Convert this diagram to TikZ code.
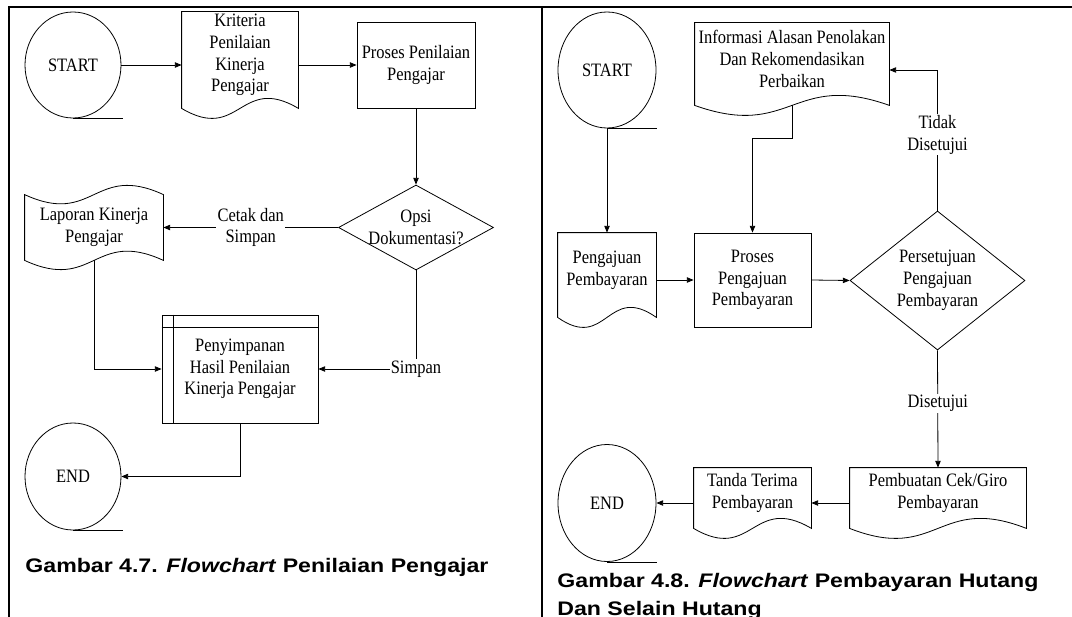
\documentclass[tikz,border=0pt]{standalone}
\usepackage{fontspec}
\setmainfont{Liberation Serif}[FakeStretch=0.87]
\newfontfamily\capfont{Liberation Sans}[FakeStretch=1.18]
\usetikzlibrary{shapes.geometric,arrows.meta}

\tikzset{
  term/.style={ellipse,draw,inner sep=0pt},
  proc/.style={rectangle,draw,align=center,inner sep=1pt},
  doc/.style={rectangle,align=center,inner sep=0pt},
  dec/.style={diamond,draw,inner sep=0pt},
  lbl/.style={fill=white,align=center,inner sep=1pt},
  capt/.style={anchor=base west,inner sep=0pt,font=\capfont\fontsize{14.7}{21}\selectfont\bfseries}
}
% outline of a document symbol round a node
\newcommand\docline[1]{%
  \draw (#1.north west) -- ([yshift=-7.5pt]#1.south west)
    .. controls ([yshift=-33.5pt]#1.south) and ([yshift=18.5pt]#1.south) ..
    ([yshift=-7.5pt]#1.south east) -- (#1.north east) -- cycle;}
% outline of a punched tape symbol
\newcommand\tapeline[1]{%
  \draw (#1.north west) .. controls ([yshift=-24pt]#1.north) and ([yshift=24pt]#1.north) .. (#1.north east)
    -- (#1.south east) .. controls ([yshift=24pt]#1.south) and ([yshift=-24pt]#1.south) .. (#1.south west) -- cycle;}
\newcommand\tail[1]{\draw (#1.south) -- ++(50,0);}

\begin{document}
\begin{tikzpicture}[x=0.75pt,y=-0.75pt,>={Triangle[length=5pt,width=4pt]},line width=0.6pt,
    font=\fontsize{14.2}{16.3}\selectfont]
  \useasboundingbox (0,0) rectangle (1072,617);
  \draw[line width=1.6pt] (9,617) -- (9,7) -- (1072,7);
  \draw[line width=2pt] (542,7) -- (542,617);

  % Gambar 4.7
  \node[term,minimum width=72pt,minimum height=79.5pt] (start1) at (73,65) {START};
  \tail{start1}
  \node[doc,minimum width=87pt,minimum height=64.5pt] (krit) at (240,55) {Kriteria\\Penilaian\\Kinerja\\Pengajar};
  \docline{krit}
  \node[proc,minimum width=88.5pt,minimum height=64.5pt] (proses1) at (416,65) {Proses Penilaian\\Pengajar};
  \node[dec,minimum width=116.25pt,minimum height=63.75pt,
    label={[align=center]center:Opsi\\Dokumentasi?}] (opsi) at (416,227.5) {};
  \node[doc,minimum width=103.5pt,minimum height=48.75pt] (lap) at (94,227.5) {Laporan Kinerja\\Pengajar};
  \tapeline{lap}
  \node[proc,minimum width=117pt,minimum height=81pt] (store) at (240,369) {Penyimpanan\\Hasil Penilaian\\Kinerja Pengajar};
  \draw ([xshift=9pt]store.north west) -- ([xshift=9pt]store.south west);
  \draw ([yshift=-9.75pt]store.north west) -- ([yshift=-9.75pt]store.north east);
  \node[term,minimum width=72pt,minimum height=80.25pt] (end1) at (73,476.5) {END};
  \tail{end1}

  \draw[->] (start1.east) -- (start1 -| krit.west);
  \draw[->] (krit.east |- proses1) -- (proses1.west);
  \draw[->] (proses1.south) -- (opsi.north);
  \draw[->] (opsi.west) -- node[lbl] {Cetak dan\\Simpan} (lap.east);
  \draw[->] (lap.south) |- (store.west);
  \draw[->] (opsi.south) |- node[lbl] {Simpan} (store.east);
  \draw[->] (store.south) |- (end1.east);

  \node[capt] (cap1) at (25,572) {Gambar 4.7. \textit{Flowchart} Penilaian Pengajar};

  % Gambar 4.8
  \node[term,minimum width=73.5pt,minimum height=87pt] (start2) at (607,70) {START};
  \tail{start2}
  \node[doc,minimum width=73.5pt,minimum height=55.5pt] (ajuan) at (607,270) {Pengajuan\\Pembayaran};
  \docline{ajuan}
  \node[proc,minimum width=87.75pt,minimum height=70.5pt] (proses2) at (752.5,280) {Proses\\Pengajuan\\Pembayaran};
  \node[dec,minimum width=131.25pt,minimum height=104.25pt,
    label={[align=center]center:Persetujuan\\Pengajuan\\Pembayaran}] (setuju) at (937.5,280.5) {};
  \node[doc,minimum width=145.5pt,minimum height=54pt] (info) at (792,59) {Informasi Alasan Penolakan\\Dan Rekomendasikan\\Perbaikan};
  \docline{info}
  \node[doc,minimum width=132pt,minimum height=37.5pt] (cek) at (938,493) {Pembuatan Cek/Giro\\Pembayaran};
  \docline{cek}
  \node[doc,minimum width=87.75pt,minimum height=37.5pt] (tanda) at (752.5,493) {Tanda Terima\\Pembayaran};
  \docline{tanda}
  \node[term,minimum width=73.5pt,minimum height=87.75pt] (end2) at (607,503) {END};
  \tail{end2}

  \draw[->] (start2.south) -- (ajuan.north);
  \draw[->] (ajuan.east |- proses2) -- (proses2.west);
  \draw[->] (proses2.east) -- (setuju.west);
  \draw[->] (setuju.north) |- node[lbl,pos=0.27] {Tidak\\Disetujui} ([yshift=-8.25pt]info.east);
  \draw[->] ([yshift=-7.5pt]info.south) -- ++(0,33) -| (proses2.north);
  \draw[->] (setuju.south) -- node[lbl,pos=0.45] {Disetujui} (cek.north);
  \draw[->] (cek.west |- end2) -- (tanda.east |- end2);
  \draw[->] (tanda.west |- end2) -- (end2.east);

  \node[capt] (cap2a) at (557,587) {Gambar 4.8. \textit{Flowchart} Pembayaran Hutang};
  \node[capt] (cap2b) at (557,615) {Dan Selain Hutang};
\end{tikzpicture}
\end{document}
